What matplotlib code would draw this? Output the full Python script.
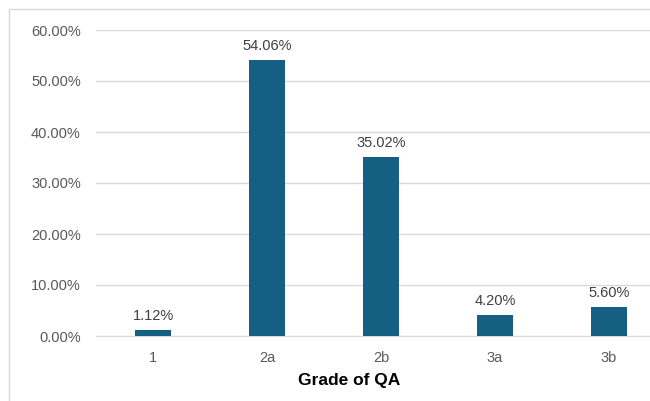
import matplotlib.pyplot as plt
from matplotlib.patches import Rectangle
from matplotlib.ticker import PercentFormatter

# Datos
grades = ['1', '2a', '2b', '3a', '3b']
shares = [1.12, 54.06, 35.02, 4.20, 5.60]
yticks = [0, 10, 20, 30, 40, 50, 60]

fig = plt.figure(figsize=(6.5, 4.01), dpi=100)
plt.rcParams['font.family'] = ['Liberation Sans', 'DejaVu Sans']

# plot area is cut off on the right in the reference
ax = fig.add_axes([96 / 650, 65 / 401, 570 / 650, 306 / 401])

bars = ax.bar(grades, shares, width=0.316, color='#156082', zorder=3)
for b, v in zip(bars, shares):
    ax.annotate(f'{v:.2f}%', (b.get_x() + b.get_width() / 2, v),
                xytext=(0, 5), textcoords='offset points',
                ha='center', va='bottom', fontsize=10.5, color='#404040')

ax.set_ylim(0, 60)
ax.set_xlim(-0.5, 4.5)
ax.set_yticks(yticks)
ax.yaxis.set_major_formatter(PercentFormatter(decimals=2))
ax.grid(axis='y', color='#d9d9d9', linewidth=1, zorder=0)
for s in ['top', 'right', 'left']:
    ax.spines[s].set_visible(False)
ax.spines['bottom'].set_color('#d9d9d9')
ax.tick_params(axis='both', length=0, labelsize=10.5, colors='#595959')
ax.tick_params(axis='y', pad=11)
ax.tick_params(axis='x', pad=11)

fig.text(349 / 650, 20 / 401, 'Grade of QA', ha='center', va='center',
         fontsize=12.5, fontweight='bold', color='black')

# chart border
fig.patches.append(Rectangle((9 / 650, -0.5), 2, (401 - 9) / 401 + 0.5,
                             transform=fig.transFigure, fill=False,
                             edgecolor='#d9d9d9', linewidth=1))

fig.savefig('out.png', dpi=100)
